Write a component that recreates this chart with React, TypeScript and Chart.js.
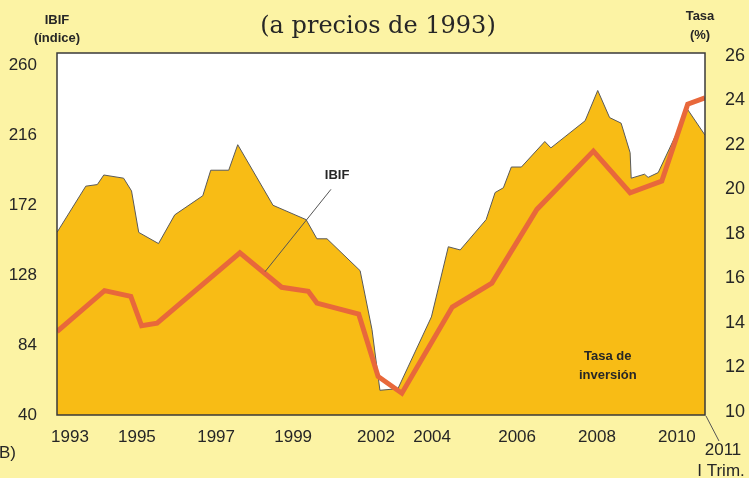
import React, { useEffect, useRef } from "react";
import { Chart, registerables } from "chart.js";

Chart.register(...registerables);

// IBIF (índice, left axis) (decimal years)
const ibifYears = [
  1993.0, 1993.8, 1994.12, 1994.3, 1994.85, 1995.07, 1995.27, 1995.82, 1996.27, 1997.05,
  1997.27, 1997.77, 1998.02, 1999.0, 1999.92, 2000.22, 2000.5, 2001.42, 2001.75, 2001.97,
  2002.47, 2003.4, 2003.87, 2004.2, 2004.92, 2005.17, 2005.4, 2005.62, 2005.9, 2006.55,
  2006.72, 2007.67, 2008.02, 2008.35, 2008.67, 2008.92, 2008.95, 2009.32, 2009.42, 2009.7,
  2010.52, 2011.0,
];
const ibifValues = [
  155, 184, 185, 191, 189, 181, 155, 148, 166, 178,
  194, 194, 210, 172, 163, 151, 151, 131, 94, 56,
  57, 102, 146, 144, 163, 180, 183, 196, 196, 212,
  208, 225, 244, 227, 223.5, 205, 189, 191.5, 189.5, 192.5,
  232, 216,
];

// Tasa de inversión (%, right axis)
const tasaYears = [
  1993.0, 1994.32, 1995.05, 1995.35, 1995.78, 1998.08, 1999.24, 1999.98, 2000.22, 2001.38,
  2001.92, 2002.58, 2003.98, 2005.08, 2006.33, 2007.9, 2008.92, 2009.8, 2010.52, 2011.0,
];
const tasaValues = [
  13.6, 15.44, 15.18, 13.86, 13.98, 17.14, 15.59, 15.41, 14.88, 14.39,
  11.58, 10.83, 14.7, 15.78, 19.09, 21.71, 19.84, 20.36, 23.82, 24.1,
];

const xTickPositions = [1993.36, 1995.22, 1997.42, 1999.56, 2001.86, 2003.42, 2005.78, 2008.0, 2010.22];
const xTickLabels = ["1993", "1995", "1997", "1999", "2002", "2004", "2006", "2008", "2010"];
const ibifTicks = [40, 84, 128, 172, 216, 260];
const tasaTicks = [10, 12, 14, 16, 18, 20, 22, 24, 26];

const SANS = "'Liberation Sans', Arial, Helvetica, sans-serif";
const PAGE_BG = "#FCF3A4";
const AREA = "#F8BC15";
const LINE = "#E8683B";
const TEXT = "#262626";

const decorPlugin = {
  id: "decor",
  beforeDraw(chart: any) {
    const { ctx, chartArea: a, width, height } = chart;
    ctx.save();
    ctx.fillStyle = PAGE_BG;
    ctx.fillRect(0, 0, width, height);
    ctx.fillStyle = "#ffffff";
    ctx.fillRect(a.left, a.top, a.right - a.left, a.bottom - a.top);
    ctx.restore();
  },
  afterDraw(chart: any) {
    const { ctx, chartArea: a } = chart;
    const sx = chart.scales.x;
    const sy = chart.scales.y;
    const sy2 = chart.scales.y2;
    ctx.save();
    // plot frame
    ctx.strokeStyle = "#3a3a3a";
    ctx.lineWidth = 1.5;
    ctx.strokeRect(a.left, a.top, a.right - a.left, a.bottom - a.top);

    // title
    ctx.fillStyle = TEXT;
    ctx.textAlign = "center";
    ctx.textBaseline = "middle";
    ctx.font = "24px 'DejaVu Serif', serif";
    ctx.fillText("(a precios de 1993)", 378, 27);

    // axis titles
    ctx.font = `bold 13px ${SANS}`;
    ctx.fillText("IBIF", a.left, 20);
    ctx.fillText("(índice)", a.left, 38);
    ctx.fillText("Tasa", a.right - 5, 16);
    ctx.fillText("(%)", a.right - 5, 35);

    // IBIF label + leader
    ctx.fillText("IBIF", sx.getPixelForValue(2000.78), sy.getPixelForValue(191));
    ctx.strokeStyle = "#555";
    ctx.lineWidth = 1;
    ctx.beginPath();
    ctx.moveTo(sx.getPixelForValue(2000.61), sy.getPixelForValue(182));
    ctx.lineTo(sx.getPixelForValue(1998.78), sy.getPixelForValue(130.4));
    ctx.stroke();

    // Tasa de inversión label
    const tx = sx.getPixelForValue(2008.3);
    const ty = sy2.getPixelForValue(12.05);
    ctx.fillText("Tasa de", tx, ty - 9.5);
    ctx.fillText("inversión", tx, ty + 9.5);

    // 2011 I Trim.
    ctx.beginPath();
    ctx.moveTo(a.right + 1, a.bottom + 1);
    ctx.lineTo(a.right + 14, a.bottom + 26);
    ctx.stroke();
    ctx.font = `17px ${SANS}`;
    ctx.fillText("2011", a.right + 18, 450);
    ctx.fillText("I Trim.", a.right + 16, 471);

    // B)
    ctx.textAlign = "left";
    ctx.fillText("B)", -1, 453);
    ctx.restore();
  },
};

export default function App() {
  const ref = useRef<HTMLCanvasElement | null>(null);
  useEffect(() => {
    if (!ref.current) return;
    const chart = new Chart(ref.current, {
      type: "line",
      data: {
        datasets: [
          {
            label: "Tasa de inversión",
            data: tasaYears.map((x, i) => ({ x, y: tasaValues[i] })),
            yAxisID: "y2",
            borderColor: LINE,
            borderWidth: 5,
            fill: false,
            tension: 0,
            pointRadius: 0,
            borderJoinStyle: "miter",
            order: 1,
          } as any,
          {
            label: "IBIF",
            data: ibifYears.map((x, i) => ({ x, y: ibifValues[i] })),
            yAxisID: "y",
            borderColor: "#5a5a5a",
            borderWidth: 1,
            backgroundColor: AREA,
            fill: "start",
            tension: 0,
            pointRadius: 0,
            order: 2,
          } as any,
        ],
      },
      options: {
        responsive: false,
        animation: false,
        layout: { padding: { top: 53, left: 0, right: 0, bottom: 0 } },
        plugins: { legend: { display: false }, tooltip: { enabled: false } },
        scales: {
          x: {
            type: "linear",
            min: 1993,
            max: 2011,
            grid: { display: false, drawTicks: false },
            border: { display: false },
            ticks: {
              autoSkip: false,
              maxRotation: 0,
              padding: 12,
              color: TEXT,
              font: { family: SANS, size: 17 },
              callback: (_v: any, i: number) => xTickLabels[i],
            },
            afterBuildTicks: (s: any) => {
              s.ticks = xTickPositions.map((v) => ({ value: v }));
            },
            afterFit: (s: any) => {
              s.height = 63;
            },
          },
          y: {
            position: "left",
            min: 40.5,
            max: 267.5,
            grid: { display: false, drawTicks: false },
            border: { display: false },
            ticks: {
              padding: 20,
              color: TEXT,
              font: { family: SANS, size: 17 },
            },
            afterBuildTicks: (s: any) => {
              s.ticks = ibifTicks.map((v) => ({ value: v }));
            },
            afterFit: (s: any) => {
              s.width = 57;
            },
          },
          y2: {
            position: "right",
            min: 9.85,
            max: 26.12,
            grid: { display: false, drawTicks: false },
            border: { display: false },
            ticks: {
              padding: 20,
              color: TEXT,
              font: { family: SANS, size: 18 },
            },
            afterBuildTicks: (s: any) => {
              s.ticks = tasaTicks.map((v) => ({ value: v }));
            },
            afterFit: (s: any) => {
              s.width = 44;
            },
          },
        },
      } as any,
      plugins: [decorPlugin],
    });
    return () => chart.destroy();
  }, []);

  return (
    <div style={{ position: "absolute", left: 0, top: 0, width: 749, height: 478 }}>
      <canvas ref={ref} width={749} height={478} style={{ display: "block" }} />
    </div>
  );
}
